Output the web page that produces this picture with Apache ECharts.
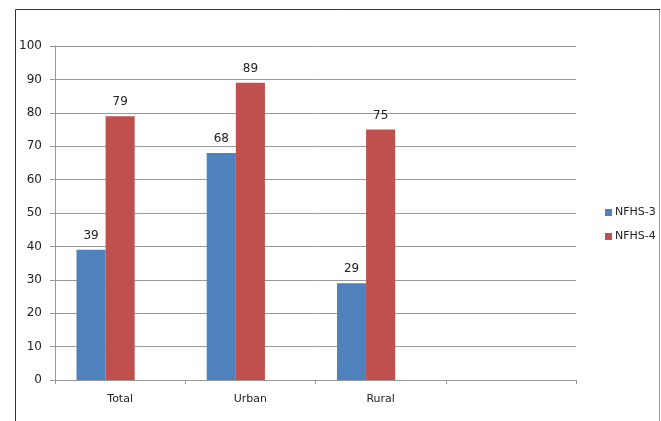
<!DOCTYPE html>
<html>
<head>
<meta charset="utf-8">
<script src="https://cdn.jsdelivr.net/npm/echarts@6/dist/echarts.min.js"></script>
<style>
  html, body { margin: 0; padding: 0; background: #fff; }
  #chart { width: 661px; height: 421px; }
</style>
</head>
<body>
<div id="chart"></div>
<script>
const categories = ['Total', 'Urban', 'Rural', '']
const nfhs3 = [39, 68, 29, null]
const nfhs4 = [79, 89, 75, null]
// empty third slot, as in the source chart (keeps the pair left of centre)
const emptySlot = [null, null, null, null]
const yTicks = { min: 0, max: 100, interval: 10 }

const chart = echarts.init(document.getElementById('chart'))
const font = 'DejaVu Sans'

const barLabel = { show: true, position: 'top', distance: 8, color: '#222', fontSize: 12 }

chart.setOption({
  backgroundColor: '#fff',
  animation: false,
  textStyle: { fontFamily: font },
  legend: {
    orient: 'vertical',
    left: 600, top: 202,
    itemWidth: 7, itemHeight: 7, itemGap: 13,
    icon: 'rect',
    textStyle: { color: '#222', fontSize: 11, fontFamily: font, padding: [0, 0, 0, -2] },
    data: ['NFHS-3', 'NFHS-4']
  },
  grid: { left: 55, right: 85, top: 46, bottom: 41, containLabel: false },
  xAxis: {
    type: 'category',
    data: categories,
    axisLine: { lineStyle: { color: '#999' } },
    axisTick: { show: true, length: 4, inside: false, lineStyle: { color: '#999' } },
    axisLabel: { color: '#222', fontSize: 11, margin: 14 }
  },
  yAxis: {
    type: 'value',
    min: yTicks.min, max: yTicks.max, interval: yTicks.interval,
    axisLine: { show: true, lineStyle: { color: '#999' } },
    axisTick: { show: true, length: 5, lineStyle: { color: '#999' } },
    axisLabel: { color: '#222', fontSize: 12, margin: 13 },
    splitLine: { lineStyle: { color: '#999' } }
  },
  series: [
    {
      name: 'NFHS-3', type: 'bar', data: nfhs3,
      barGap: '0%', barCategoryGap: '33%',
      itemStyle: { color: '#4F81BD' },
      label: barLabel
    },
    {
      name: 'NFHS-4', type: 'bar', data: nfhs4,
      barGap: '0%', barCategoryGap: '33%',
      itemStyle: { color: '#C0504D' },
      label: barLabel
    },
    {
      name: 'empty', type: 'bar', data: emptySlot,
      barGap: '0%', barCategoryGap: '33%',
      itemStyle: { color: '#9BBB59' }
    }
  ],
  graphic: [
    { type: 'polyline', shape: { points: [[15.5, 421], [15.5, 9.5], [660, 9.5]] }, style: { stroke: '#333', lineWidth: 1, fill: null } },
    { type: 'line', shape: { x1: 659.5, y1: 10, x2: 659.5, y2: 421 }, style: { stroke: '#999', lineWidth: 1 } }
  ]
})
</script>
</body>
</html>
